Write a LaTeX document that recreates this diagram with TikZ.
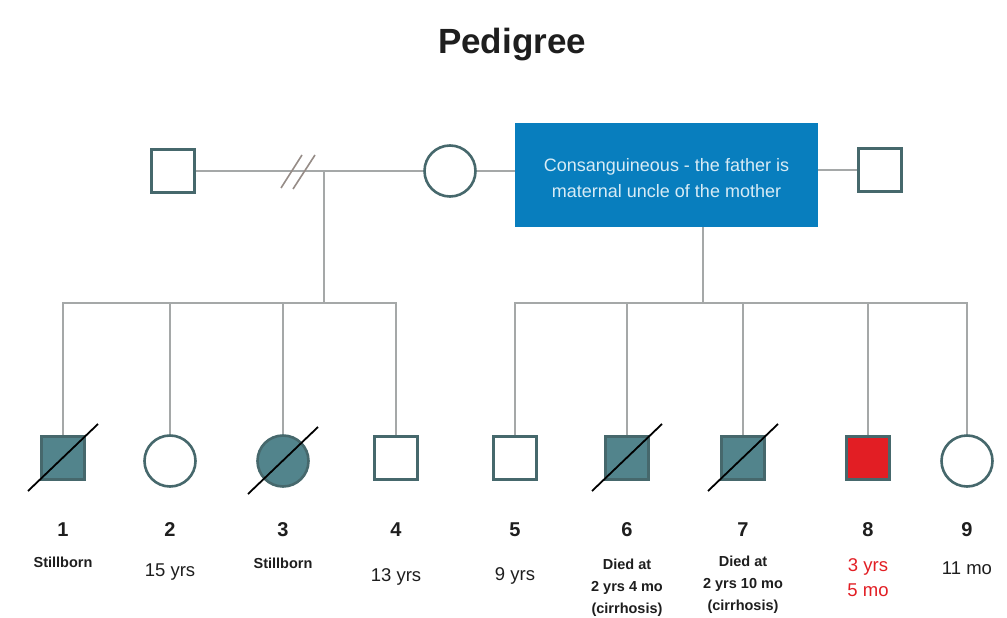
\documentclass[tikz,border=0pt]{standalone}
\usepackage{fontspec}
\setmainfont{Liberation Sans}
\usetikzlibrary{calc}
\definecolor{linegray}{RGB}{165,168,168}
\definecolor{symedge}{RGB}{70,104,108}
\definecolor{affteal}{RGB}{82,132,140}
\definecolor{boxblue}{RGB}{8,126,190}
\definecolor{boxtext}{RGB}{215,235,245}
\definecolor{affred}{RGB}{226,30,36}
\definecolor{inktext}{RGB}{30,30,30}
\definecolor{slashgray}{RGB}{150,140,135}
\begin{document}
\begin{tikzpicture}[x=1pt,y=-1pt,
  conn/.style={draw=linegray, line width=1.6pt},
  male/.style={rectangle, draw=symedge, line width=2.6pt, minimum size=43pt, inner sep=0pt, fill=white},
  female/.style={circle, draw=symedge, line width=2.6pt, minimum size=51pt, inner sep=0pt, fill=white},
  affected/.style={fill=affteal},
  proband/.style={fill=affred, draw=symedge},
  deadmark/.style={draw=black, line width=1.8pt},
  idnum/.style={font=\bfseries\fontsize{20}{22}\selectfont, text=inktext},
  boldnote/.style={font=\bfseries\fontsize{14.5}{22}\selectfont, text=inktext, align=center},
  plainnote/.style={font=\fontsize{18.5}{22}\selectfont, text=inktext, align=center},
  rednote/.style={font=\fontsize{18.5}{25}\selectfont, text=affred, align=center}
]
\useasboundingbox[fill=white] (0,0) rectangle (1007,618);

% title
\node[font=\bfseries\fontsize{35}{40}\selectfont, text=inktext] (title) at (512,45) {Pedigree};

% parents' generation
\node[male] (f1) at (173,171) {};
\node[female] (mo) at (450,171) {};
\node[rectangle, fill=boxblue, minimum width=303pt, minimum height=104pt, inner sep=0pt,
      text=boxtext, align=center, font=\fontsize{18}{26}\selectfont] (box) at (666.5,175)
      {};
\node[text=boxtext, align=center, font=\fontsize{18}{26}\selectfont] (boxlbl) at (666.5,178)
      {Consanguineous - the father is\\maternal uncle of the mother};
\node[male] (f2) at (880,170) {};

% mating lines
\coordinate (mL) at (324,171);
\coordinate (brk) at (298,171);
\draw[conn] (f1.east) -- (mL) -- (mo.west);
\draw[conn] (mo.east) -- (mo -| box.west);
\draw[conn] (box.east |- f2) -- (f2.west);
% divorce mark
\draw[draw=slashgray, line width=1.6pt] ($(brk)+(-17,17)$) -- ($(brk)+(4,-16)$);
\draw[draw=slashgray, line width=1.6pt] ($(brk)+(-5,18)$) -- ($(brk)+(17,-16)$);

% children
\node[male, affected] (c1) at (63,458) {};
\node[female] (c2) at (170,461) {};
\node[female, affected] (c3) at (283,461) {};
\node[male] (c4) at (396,458) {};
\node[male] (c5) at (515,458) {};
\node[male, affected] (c6) at (627,458) {};
\node[male, affected] (c7) at (743,458) {};
\node[male, proband] (c8) at (868,458) {};
\node[female] (c9) at (967,461) {};

% sibship lines
\coordinate (sL) at (324,303);
\coordinate (sR) at (703,303);
\draw[conn] (mL) -- (sL);
\draw[conn] (box.south -| sR) -- (sR);
\foreach \c in {c1,c2,c3,c4} \draw[conn] (\c.north) |- (sL);
\foreach \c in {c5,c6,c7,c8,c9} \draw[conn] (\c.north) |- (sR);

% deceased marks
\foreach \c in {c1,c3,c6,c7}
  \draw[deadmark] ($(\c)+(-35,33)$) -- ($(\c)+(35,-34)$);

% numbers
\foreach \c/\n in {c1/1,c2/2,c3/3,c4/4,c5/5,c6/6,c7/7,c8/8,c9/9}
  \node[idnum] (n\n) at (\c |- 0,530) {\n};

% notes
\node[boldnote] (t1) at (c1 |- 0,562) {Stillborn};
\node[plainnote] (t2) at (c2 |- 0,572) {15 yrs};
\node[boldnote] (t3) at (c3 |- 0,563) {Stillborn};
\node[plainnote] (t4) at (c4 |- 0,577) {13 yrs};
\node[plainnote] (t5) at (c5 |- 0,576) {9 yrs};
\node[boldnote] (t6) at (c6 |- 0,588) {Died at\\2 yrs 4 mo\\(cirrhosis)};
\node[boldnote] (t7) at (c7 |- 0,585) {Died at\\2 yrs 10 mo\\(cirrhosis)};
\node[rednote] (t8) at (c8 |- 0,578) {3 yrs\\5 mo};
\node[plainnote] (t9) at (c9 |- 0,568) {11 mo};
\end{tikzpicture}
\end{document}
